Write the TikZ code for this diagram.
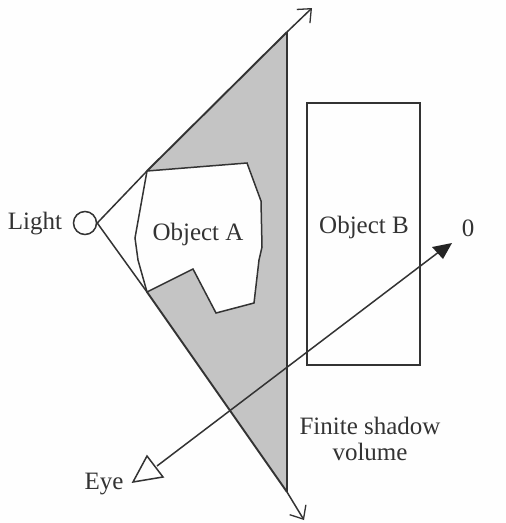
\documentclass[tikz,border=0pt]{standalone}
\usepackage{fontspec}
\setmainfont{Liberation Serif}
\usetikzlibrary{arrows.meta}
\definecolor{ink}{gray}{0.2}
\definecolor{shadowgray}{gray}{0.77}
\definecolor{paper}{gray}{0.995}
\tikzset{
  edge/.style={draw=ink,line width=1.5pt,line join=miter},
  heavy/.style={draw=ink,line width=1.9pt},
  label/.style={text=ink,font=\fontsize{25}{28}\selectfont,inner sep=0pt,align=center},
  open/.style={-{Straight Barb[length=11pt,width=19pt,line width=1.3pt]}},
}
\begin{document}
\begin{tikzpicture}[x=1pt,y=-1pt]
\useasboundingbox (0,0) rectangle (506,523);
\fill[paper] (0,0) rectangle (506,523);
% named points
\coordinate (lt) at (147,171);
\coordinate (lb) at (147,292);
\coordinate (st) at (287,32);
\coordinate (sb) at (287,492);
\coordinate (at) at (312,8);
\coordinate (ab) at (304,520);
\coordinate (e) at (157,466);
\coordinate (z) at (448,245);
% shadow
\fill[shadowgray] (lt) -- (st) -- (sb) -- (lb) -- (193,269) -- (216,313) -- (254,303) -- (259,260) -- (262,247) -- (261,201) -- (247,163) -- cycle;
% light
\node[circle,draw=ink,line width=1.5pt,minimum size=23pt,inner sep=0pt] (light) at (85,223) {};
% rays
\draw[edge] (light.east) -- (lt);
\draw[edge] (light.east) -- (lb);
\draw[heavy] (lt) -- (st);
\draw[heavy] (lb) -- (sb);
\draw[edge,open] (st) -- (at);
\draw[edge,open] (sb) -- (ab);
\draw[heavy] (st) -- (sb);
% object A
\draw[edge] (lt) -- (247,163) -- (261,201) -- (262,247) -- (259,260) -- (254,303) -- (216,313) -- (193,269) -- (lb) -- (138,260) -- (135,238) -- cycle;
% object B
\node[draw=ink,line width=1.5pt,minimum width=113pt,minimum height=262pt,inner sep=0pt,anchor=north west] (objb) at (306,102) {};
% view ray
\draw[edge] (147,456) -- (133,482) -- (163,477) -- cycle;
\draw[edge] (e) -- (z);
\fill[ink!70!black] (452,243) -- (432,247) -- (443,259) -- cycle;
% labels
\node[label] (tlight) at (35,224) {Light};
\node[label] (ta) at (198,234) {Object A};
\node[label] (tb) at (364,227) {Object B};
\node[label] (t0) at (468,228) {0};
\node[label] (tf) at (370,426) {Finite shadow};
\node[label] (tv) at (370,452) {volume};
\node[label] (te) at (104,484) {Eye};
\end{tikzpicture}
\end{document}
